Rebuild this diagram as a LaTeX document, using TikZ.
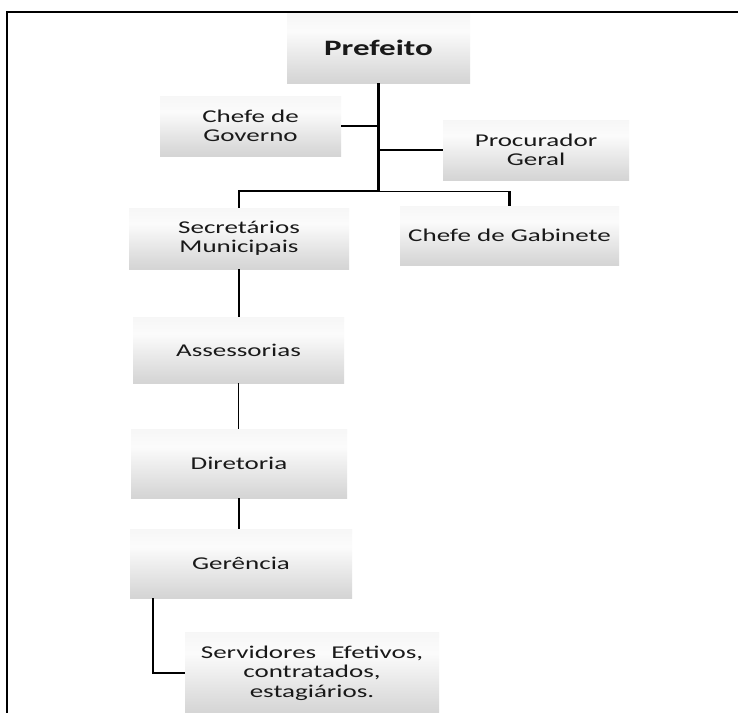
\documentclass[tikz,border=0pt]{standalone}
\usepackage{fontspec}
\setmainfont{Carlito}[FakeStretch=1.5]
\pgfdeclareverticalshading{boxshade}{100bp}{color(0bp)=(gray!50); color(30bp)=(gray!30); color(62bp)=(white!97!gray); color(100bp)=(gray!14)}
\tikzset{
  orgbox/.style={rectangle, shading=boxshade, inner sep=0pt, align=center,
    font=\fontsize{18}{19.5}\selectfont, text=black!90},
  thickline/.style={line width=2.6pt},
  thinline/.style={line width=1.3pt},
  hairline/.style={line width=0.9pt}
}
\begin{document}
\begin{tikzpicture}[x=1pt,y=-1pt]
\useasboundingbox (0,0) rectangle (738,712);
\fill[white] (0,0) rectangle (738,712);
% frame
\draw[line width=1.6pt] (7,714) -- (7,12) -- (740,12);

\node[orgbox, minimum width=183pt, minimum height=70pt, font=\fontsize{22}{24}\selectfont\bfseries] (pref) at (378.5,48) {Prefeito};
\node[orgbox, minimum width=181pt, minimum height=60pt] (gov) at (250.5,126) {Chefe de\\Governo};
\node[orgbox, minimum width=186pt, minimum height=60pt] (proc) at (536,150) {Procurador\\Geral};
\node[orgbox, minimum width=220pt, minimum height=61pt] (sec) at (239,238.5) {Secretários\\Municipais};
\node[orgbox, minimum width=219pt, minimum height=59pt] (gab) at (509.5,235.5) {Chefe de Gabinete};
\node[orgbox, minimum width=211pt, minimum height=66pt] (ass) at (238.5,350) {Assessorias};
\node[orgbox, minimum width=216pt, minimum height=69pt] (dir) at (239,463.5) {Diretoria};
\node[orgbox, minimum width=222pt, minimum height=69pt] (ger) at (241,563.5) {Gerência};
\node[orgbox, minimum width=254pt, minimum height=82pt] (serv) at (312,673) {Servidores\hspace{0.5em} Efetivos,\\contratados,\\estagiários.};

\coordinate (j) at (378.5,191);
\coordinate (gx) at (153,0);

\draw[thickline] (pref.south) -- (j);
\draw[thickline] (gov.east) -- (gov.east -| pref.south);
\draw[thickline] (proc.west) -- (proc.west -| pref.south);
\draw[thickline] (j) -| (sec.north);
\draw[hairline] (j) -- (gab.north |- j);
\draw[thickline] (gab.north |- j) -- (gab.north);
\draw[thinline] (sec.south) -- (sec.south |- ass.north);
\draw[thinline] (ass.south) -- (ass.south |- dir.north);
\draw[thinline] (dir.south) -- (dir.south |- ger.north);
\draw[thickline] (ger.south -| gx) |- (serv.west);
\end{tikzpicture}
\end{document}
